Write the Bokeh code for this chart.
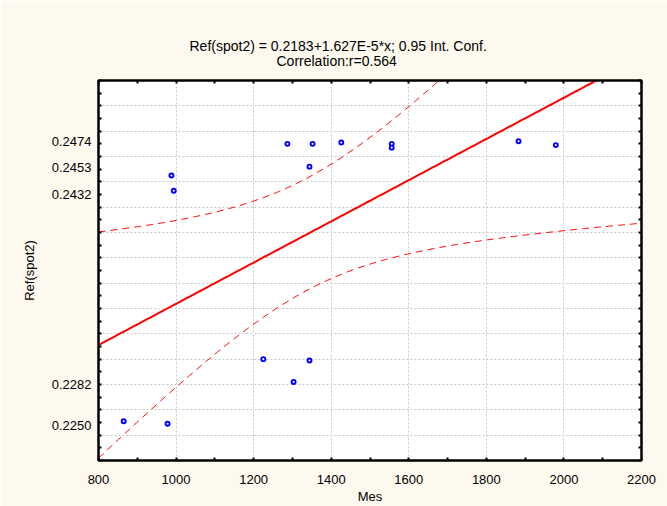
import numpy as np
from bokeh.plotting import figure
from bokeh.models import (Range1d, FixedTicker, LinearAxis, Grid, ColumnDataSource,
                          PrintfTickFormatter, Title)
from bokeh.embed import file_html
from bokeh.resources import INLINE

# ---- data ----
mes = [865, 978, 988, 994, 1225, 1287, 1303, 1344, 1344, 1352, 1426, 1556, 1556, 1883, 1979]
ref_spot2 = [0.2253, 0.2251, 0.2447, 0.2435, 0.2302, 0.2472, 0.2284, 0.2301, 0.2454,
             0.2472, 0.2473, 0.2472, 0.2469, 0.2474, 0.2471]
intercept = 0.2183
slope = 1.627e-5
t_975_df13 = 2.1604
title_line1 = "Ref(spot2) = 0.2183+1.627E-5*x; 0.95 Int. Conf."
title_line2 = "Correlation:r=0.564"
x_tick_labels = [800, 1000, 1200, 1400, 1600, 1800, 2000, 2200]
x_minor_ticks = [900, 1100, 1300, 1500, 1700, 1900, 2100]
y_tick_labels = [0.2250, 0.2282, 0.2432, 0.2453, 0.2474]
y_min, y_max = 0.2222, 0.2522
x_min, x_max = 800, 2200

FONT = "Liberation Sans"
BG = "#FDF9EE"

xs = np.array(mes, dtype=float)
ys = np.array(ref_spot2, dtype=float)
n = len(xs)
xm = xs.mean()
sxx = ((xs - xm) ** 2).sum()
resid = ys - (intercept + slope * xs)
s = np.sqrt((resid ** 2).sum() / (n - 2))
xg = np.linspace(x_min, x_max, 300)
fit = intercept + slope * xg
hw = t_975_df13 * s * np.sqrt(1.0 / n + (xg - xm) ** 2 / sxx)

y_minor = [round(y_min + k * 0.001, 4) for k in range(0, 31)]
y_grid = [round(y_min + k * 0.002, 4) for k in range(1, 15)]
x_grid = x_tick_labels[1:-1]

p = figure(width=667, height=506, output_backend="svg", toolbar_location=None,
           x_range=Range1d(x_min, x_max), y_range=Range1d(y_min, y_max),
           min_border_left=98, min_border_right=26, min_border_top=80, min_border_bottom=43,
           x_axis_type=None, y_axis_type=None, title=None)
p.background_fill_color = "white"
p.border_fill_color = BG
p.outline_line_color = "black"
p.outline_line_width = 2

def style_axis(ax, show_labels):
    ax.axis_line_color = "black"
    ax.axis_line_width = 2
    ax.major_tick_in = 0
    ax.major_tick_out = 0
    ax.minor_tick_in = 3
    ax.minor_tick_out = 0
    ax.minor_tick_line_color = "black"
    ax.minor_tick_line_width = 2
    ax.major_tick_line_color = "black"
    ax.major_tick_line_width = 2
    ax.major_label_text_font = FONT
    ax.major_label_text_font_size = "13px"
    ax.major_label_text_color = "black"
    ax.axis_label_text_font = FONT
    ax.axis_label_text_font_size = "13px"
    ax.axis_label_text_font_style = "normal"
    ax.axis_label_text_color = "black"
    if not show_labels:
        ax.major_label_text_font_size = "0px"
        ax.major_label_standoff = 0

# bottom axis
xb = LinearAxis(ticker=FixedTicker(ticks=x_tick_labels, minor_ticks=x_tick_labels + x_minor_ticks),
                axis_label="Mes")
style_axis(xb, True)
xb.major_label_standoff = 14
xb.axis_label_standoff = 2
p.add_layout(xb, "below")

# top axis
xt = LinearAxis(ticker=FixedTicker(ticks=[], minor_ticks=x_tick_labels + x_minor_ticks))
style_axis(xt, False)
p.add_layout(xt, "above")

# two title lines, each centred on the picture (not on the frame)
t2 = Title(text=title_line2, align="left", offset=178, standoff=23,
           text_font=FONT, text_font_size="14px", text_font_style="normal", text_color="black")
t1 = Title(text=title_line1, align="left", offset=91, standoff=-29,
           text_font=FONT, text_font_size="14px", text_font_style="normal", text_color="black")
p.add_layout(t2, "above")
p.add_layout(t1, "above")

# left axis
yl = LinearAxis(ticker=FixedTicker(ticks=y_tick_labels, minor_ticks=y_minor),
                axis_label="Ref(spot2)", formatter=PrintfTickFormatter(format="%.4f"))
style_axis(yl, True)
yl.major_label_standoff = 7
yl.axis_label_standoff = 12
p.add_layout(yl, "left")

# right axis
yr = LinearAxis(ticker=FixedTicker(ticks=[], minor_ticks=y_minor))
style_axis(yr, False)
p.add_layout(yr, "right")

gx = Grid(dimension=0, ticker=FixedTicker(ticks=x_grid))
gy = Grid(dimension=1, ticker=FixedTicker(ticks=y_grid))
for g in (gx, gy):
    g.grid_line_color = "#C8C8C8"
    g.grid_line_dash = "2 2"
    g.grid_line_width = 1
    p.add_layout(g, "center")

p.line(xg, fit, line_color="#FF0000", line_width=2)
p.line(xg, fit + hw, line_color="#FF0000", line_width=1, line_dash="7 5")
p.line(xg, fit - hw, line_color="#FF0000", line_width=1, line_dash="7 5")

src = ColumnDataSource(dict(x=mes, y=ref_spot2))
p.scatter("x", "y", source=src, marker="circle", size=4, line_color="#0000FF",
          line_width=1.9, fill_color="white")

open("out.html", "w").write(file_html(p, INLINE))
